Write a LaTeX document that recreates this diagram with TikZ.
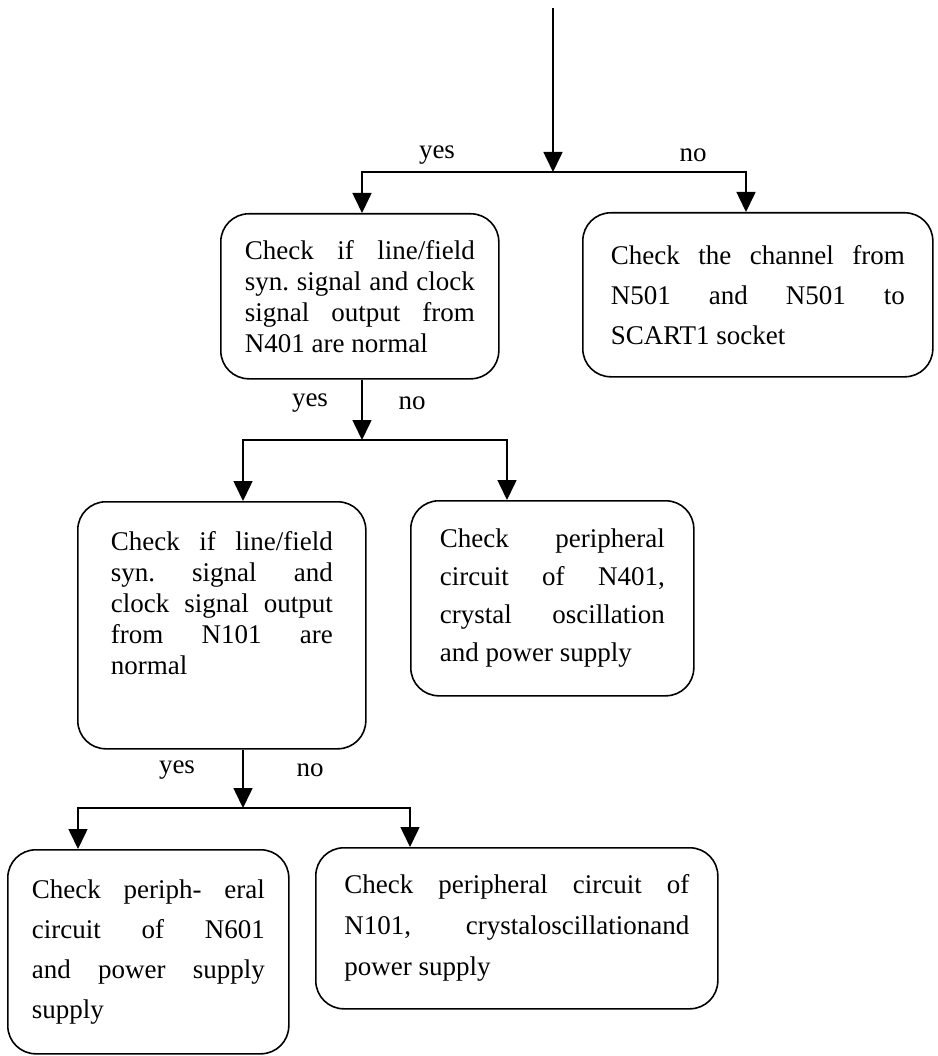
\documentclass[tikz,border=0pt]{standalone}
\usepackage{fontspec}
\setmainfont{Liberation Serif}
\usetikzlibrary{arrows.meta}
\frenchspacing

\newcommand{\jline}[1]{\makebox[\hsize][s]{#1}}
\newcommand{\boxfont}[1]{\fontsize{27}{#1}\selectfont}
\tikzset{
  chkbox/.style={draw,line width=1.6pt,rounded corners=28pt,inner sep=0pt,
                 align=justify,anchor=north west},
  flow/.style={line width=1.6pt,-{Triangle[length=20pt,width=19pt]}},
  lbl/.style={font=\boxfont{31}}
}

\begin{document}
\begin{tikzpicture}[x=1pt,y=-1pt]
\useasboundingbox (0,0) rectangle (937,1056);
\coordinate (top) at (553,8);
\coordinate (j1) at (553,172);
\coordinate (j2) at (362,440);
\coordinate (j3) at (243,808);

% first level
\node[chkbox,minimum width=278pt,minimum height=165pt,text width=230pt,font=\boxfont{31}]
  (chkA) at (220,213) {\jline{Check if line/field}\\ \jline{syn. signal and clock}\\
  \jline{signal output from}\\ N401 are normal};
\node[chkbox,minimum width=350pt,minimum height=164pt,text width=294pt,font=\boxfont{40}]
  (chkB) at (582,212) {\jline{Check the channel from}\\ \jline{N501 and N501 to}\\
  SCART1 socket};

% second level
\node[chkbox,minimum width=288pt,minimum height=247pt,text width=222pt,font=\boxfont{31}]
  (chkC) at (77,501) {\jline{Check if line/field}\\ \jline{syn. signal and}\\
  \jline{clock signal output}\\ \jline{from N101 are}\\ normal\rule[-44pt]{0pt}{44pt}};
\node[chkbox,minimum width=283pt,minimum height=195pt,text width=225pt,font=\boxfont{38}]
  (chkD) at (410,500) {\jline{Check peripheral}\\ \jline{circuit of N401,}\\
  \jline{crystal oscillation}\\ and power supply};

% third level
\node[chkbox,minimum width=281pt,minimum height=204pt,text width=233pt,font=\boxfont{40}]
  (chkE) at (7,849) {\jline{Check periph- eral}\\ \jline{circuit of N601}\\
  \jline{and power supply}\\ supply};
\node[chkbox,minimum width=402pt,minimum height=161pt,text width=345pt,font=\boxfont{41}]
  (chkF) at (315,847) {\jline{Check peripheral circuit of}\\
  \jline{N101, crystaloscillationand}\\ power supply};

\draw[flow] (top) -- (j1);
\draw[flow] (j1) -| ([xshift=142pt]chkA.north west);
\draw[flow] (j1) -| ([xshift=164pt]chkB.north west);
\draw[flow] ([xshift=142pt]chkA.south west) -- (j2);
\draw[flow] (j2) -| ([xshift=166pt]chkC.north west);
\draw[flow] (j2) -| ([xshift=97pt]chkD.north west);
\draw[flow] ([xshift=166pt]chkC.south west) -- (j3);
\draw[flow] (j3) -| ([xshift=71pt]chkE.north west);
\draw[flow] (j3) -| ([xshift=95pt]chkF.north west);

\node[lbl] (yes1) at (437,155) {yes};
\node[lbl] (no1)  at (693,155) {no};
\node[lbl] (yes2) at (310,403) {yes};
\node[lbl] (no2)  at (412,403) {no};
\node[lbl] (yes3) at (177,770) {yes};
\node[lbl] (no3)  at (310,770) {no};
\end{tikzpicture}
\end{document}
